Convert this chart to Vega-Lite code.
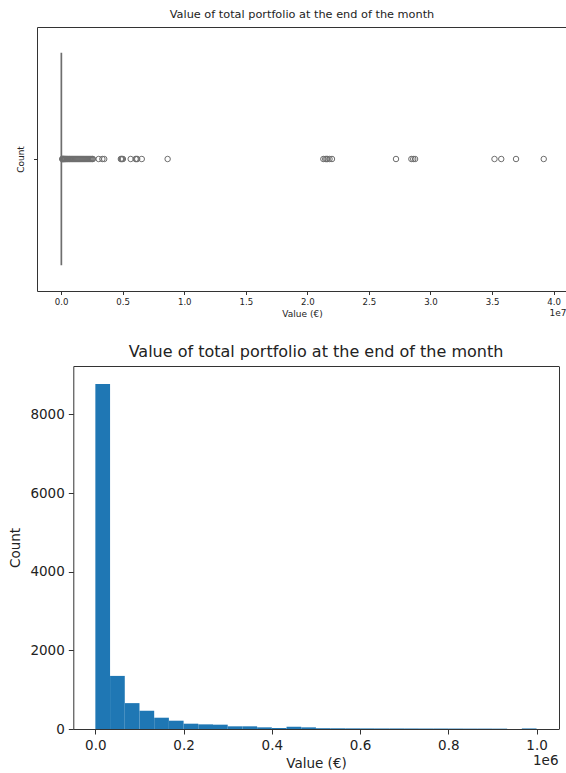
{
  "$schema": "https://vega.github.io/schema/vega-lite/v6.json",
  "padding": {"top": 8, "left": 8, "right": 0, "bottom": 0},
  "spacing": 24,
  "datasets": {
    "box": [
      {"group": "all", "lower": 0, "q1": 2000, "median": 9000, "q3": 35000, "upper": 84000}
    ],
    "outliers": [
      {"group": "all", "value": 90000}, {"group": "all", "value": 120000}, {"group": "all", "value": 150000},
      {"group": "all", "value": 180000}, {"group": "all", "value": 210000}, {"group": "all", "value": 250000},
      {"group": "all", "value": 290000}, {"group": "all", "value": 330000}, {"group": "all", "value": 380000},
      {"group": "all", "value": 430000}, {"group": "all", "value": 480000}, {"group": "all", "value": 540000},
      {"group": "all", "value": 600000}, {"group": "all", "value": 660000}, {"group": "all", "value": 720000},
      {"group": "all", "value": 790000}, {"group": "all", "value": 860000}, {"group": "all", "value": 930000},
      {"group": "all", "value": 1000000}, {"group": "all", "value": 1080000}, {"group": "all", "value": 1160000},
      {"group": "all", "value": 1240000}, {"group": "all", "value": 1320000}, {"group": "all", "value": 1400000},
      {"group": "all", "value": 1480000}, {"group": "all", "value": 1560000}, {"group": "all", "value": 1640000},
      {"group": "all", "value": 1720000}, {"group": "all", "value": 1800000}, {"group": "all", "value": 1880000},
      {"group": "all", "value": 1960000}, {"group": "all", "value": 2040000}, {"group": "all", "value": 2120000},
      {"group": "all", "value": 2200000}, {"group": "all", "value": 2280000}, {"group": "all", "value": 2360000},
      {"group": "all", "value": 2440000}, {"group": "all", "value": 2520000}, {"group": "all", "value": 2580000},
      {"group": "all", "value": 3050000}, {"group": "all", "value": 3350000}, {"group": "all", "value": 3500000},
      {"group": "all", "value": 4850000}, {"group": "all", "value": 4900000}, {"group": "all", "value": 4950000},
      {"group": "all", "value": 5020000}, {"group": "all", "value": 5650000}, {"group": "all", "value": 6050000},
      {"group": "all", "value": 6120000}, {"group": "all", "value": 6180000}, {"group": "all", "value": 6550000},
      {"group": "all", "value": 8650000},
      {"group": "all", "value": 21300000}, {"group": "all", "value": 21450000}, {"group": "all", "value": 21550000},
      {"group": "all", "value": 21650000}, {"group": "all", "value": 21800000}, {"group": "all", "value": 22000000},
      {"group": "all", "value": 27200000}, {"group": "all", "value": 28450000}, {"group": "all", "value": 28600000},
      {"group": "all", "value": 28750000}, {"group": "all", "value": 35200000}, {"group": "all", "value": 35750000},
      {"group": "all", "value": 36950000}, {"group": "all", "value": 39200000}
    ],
    "hist": [
      {"bin_start": 0, "bin_end": 33333, "count": 8770},
      {"bin_start": 33333, "bin_end": 66667, "count": 1350},
      {"bin_start": 66667, "bin_end": 100000, "count": 658},
      {"bin_start": 100000, "bin_end": 133333, "count": 464},
      {"bin_start": 133333, "bin_end": 166667, "count": 287},
      {"bin_start": 166667, "bin_end": 200000, "count": 211},
      {"bin_start": 200000, "bin_end": 233333, "count": 135},
      {"bin_start": 233333, "bin_end": 266667, "count": 118},
      {"bin_start": 266667, "bin_end": 300000, "count": 110},
      {"bin_start": 300000, "bin_end": 333333, "count": 68},
      {"bin_start": 333333, "bin_end": 366667, "count": 68},
      {"bin_start": 366667, "bin_end": 400000, "count": 42},
      {"bin_start": 400000, "bin_end": 433333, "count": 25},
      {"bin_start": 433333, "bin_end": 466667, "count": 59},
      {"bin_start": 466667, "bin_end": 500000, "count": 42},
      {"bin_start": 500000, "bin_end": 533333, "count": 20},
      {"bin_start": 533333, "bin_end": 566667, "count": 18},
      {"bin_start": 566667, "bin_end": 600000, "count": 16},
      {"bin_start": 600000, "bin_end": 633333, "count": 15},
      {"bin_start": 633333, "bin_end": 666667, "count": 14},
      {"bin_start": 666667, "bin_end": 700000, "count": 14},
      {"bin_start": 700000, "bin_end": 733333, "count": 13},
      {"bin_start": 733333, "bin_end": 766667, "count": 12},
      {"bin_start": 766667, "bin_end": 800000, "count": 12},
      {"bin_start": 800000, "bin_end": 833333, "count": 11},
      {"bin_start": 833333, "bin_end": 866667, "count": 10},
      {"bin_start": 866667, "bin_end": 900000, "count": 10},
      {"bin_start": 900000, "bin_end": 933333, "count": 9},
      {"bin_start": 933333, "bin_end": 966667, "count": 0},
      {"bin_start": 966667, "bin_end": 1000000, "count": 14}
    ]
  },
  "vconcat": [
    {
      "title": {"text": "Value of total portfolio at the end of the month", "fontSize": 11.3, "offset": 7},
      "width": 530,
      "height": 264,
      "layer": [
        {
          "layer": [
            {
              "data": {"name": "box"},
              "mark": {"type": "rule", "color": "#6e6e6e", "strokeWidth": 1.2},
              "encoding": {
                "x": {"field": "lower", "type": "quantitative"},
                "x2": {"field": "upper"},
                "y": {"field": "group", "type": "nominal"}
              }
            },
            {
              "data": {"name": "box"},
              "mark": {"type": "bar", "height": {"band": 0.8}, "fill": "#ffffff", "stroke": "#6e6e6e", "strokeWidth": 1.3},
              "encoding": {
                "x": {"field": "q1", "type": "quantitative"},
                "x2": {"field": "q3"},
                "y": {"field": "group", "type": "nominal"}
              }
            },
            {
              "data": {"name": "outliers"},
              "mark": {"type": "point", "shape": "circle", "filled": false, "stroke": "#6e6e6e", "strokeWidth": 1, "size": 30, "opacity": 1},
              "encoding": {
                "x": {
                  "field": "value", "type": "quantitative",
                  "scale": {"domain": [-1960000, 41090000], "nice": false, "zero": false},
                  "axis": {
                    "values": [0, 5000000, 10000000, 15000000, 20000000, 25000000, 30000000, 35000000, 40000000],
                    "labelExpr": "format(datum.value / 1e7, '.1f')",
                    "labelFontSize": 8.6, "tickSize": 3.5, "labelPadding": 2.5,
                    "labelOverlap": false, "labelFlush": false,
                    "title": "Value (€)", "titleFontSize": 9, "titlePadding": 4
                  }
                },
                "y": {
                  "field": "group", "type": "nominal",
                  "scale": {"domain": ["all"], "paddingInner": 0, "paddingOuter": 0},
                  "axis": {"labels": false, "tickSize": 3.5, "title": "Count", "titleFontSize": 9, "titlePadding": 8}
                }
              }
            }
          ]
        },
        {
          "data": {"name": "outliers"},
          "mark": {"type": "point", "opacity": 0},
          "encoding": {
            "x": {
              "field": "value", "type": "quantitative",
              "scale": {"domain": [-1960000, 41090000], "nice": false, "zero": false},
              "axis": {
                "orient": "top", "labels": false, "ticks": false, "domain": false,
                "title": "1e7", "titleFontSize": 9, "titleX": 529, "titleY": 285,
                "titleAlign": "right", "titleBaseline": "middle", "titleAnchor": null
              }
            },
            "y": {"field": "group", "type": "nominal"}
          }
        }
      ],
      "resolve": {"scale": {"x": "independent"}, "axis": {"x": "independent"}}
    },
    {
      "title": {"text": "Value of total portfolio at the end of the month", "fontSize": 16, "offset": 6, "dx": 18},
      "width": 522,
      "height": 363,
      "view": {"stroke": null},
      "layer": [
        {
          "data": {"name": "hist"},
          "mark": {"type": "rect", "color": "#1f77b4"},
          "encoding": {
            "x": {
              "field": "bin_start", "type": "quantitative",
              "scale": {"domain": [-50000, 1050000], "range": [36.3, 521.6], "nice": false, "zero": false},
              "axis": {
                "values": [0, 200000, 400000, 600000, 800000, 1000000],
                "labelExpr": "format(datum.value / 1e6, '.1f')",
                "labelFontSize": 13.5, "tickSize": 5, "labelPadding": 4,
                "labelOverlap": false, "labelFlush": false,
                "domain": true, "domainColor": "#333333", "domainWidth": 1,
                "title": "Value (€)", "titleFontSize": 13.5, "titlePadding": 5,
                "titleX": 279, "titleAlign": "center", "titleAnchor": null
              }
            },
            "x2": {"field": "bin_end"},
            "y": {
              "field": "count", "type": "quantitative",
              "scale": {"domain": [0, 9230], "nice": false},
              "axis": {
                "values": [0, 2000, 4000, 6000, 8000],
                "format": "d", "offset": -36.3,
                "domain": true, "domainColor": "#333333", "domainWidth": 1,
                "labelFontSize": 13.5, "tickSize": 5, "labelPadding": 4,
                "title": "Count", "titleFontSize": 13.5, "titlePadding": 7
              }
            }
          }
        },
        {
          "data": {"name": "hist"},
          "mark": {"type": "rect", "opacity": 0},
          "encoding": {
            "x": {
              "field": "bin_start", "type": "quantitative",
              "scale": {"domain": [-50000, 1050000], "range": [36.3, 521.6], "nice": false, "zero": false},
              "axis": {
                "orient": "top", "labels": false, "ticks": false,
                "domain": true, "domainColor": "#333333", "domainWidth": 1,
                "title": "1e6", "titleFontSize": 13.5, "titleX": 521, "titleY": 394,
                "titleAlign": "right", "titleBaseline": "middle", "titleAnchor": null
              }
            },
            "x2": {"field": "bin_end"},
            "y": {
              "field": "count", "type": "quantitative",
              "scale": {"domain": [0, 9230], "nice": false},
              "axis": {
                "orient": "right", "labels": false, "ticks": false, "title": null,
                "domain": true, "domainColor": "#333333", "domainWidth": 1
              }
            }
          }
        }
      ],
      "resolve": {
        "scale": {"x": "independent", "y": "independent"},
        "axis": {"x": "independent", "y": "independent"}
      }
    }
  ],
  "config": {
    "font": "DejaVu Sans",
    "view": {"stroke": "#333333", "strokeWidth": 1},
    "axis": {
      "domain": false, "grid": false, "tickColor": "#333333", "tickWidth": 1,
      "labelColor": "#222222", "titleColor": "#222222", "titleFontWeight": "normal",
      "labelFont": "DejaVu Sans", "titleFont": "DejaVu Sans"
    },
    "title": {"fontWeight": "normal", "color": "#222222", "font": "DejaVu Sans"}
  }
}
